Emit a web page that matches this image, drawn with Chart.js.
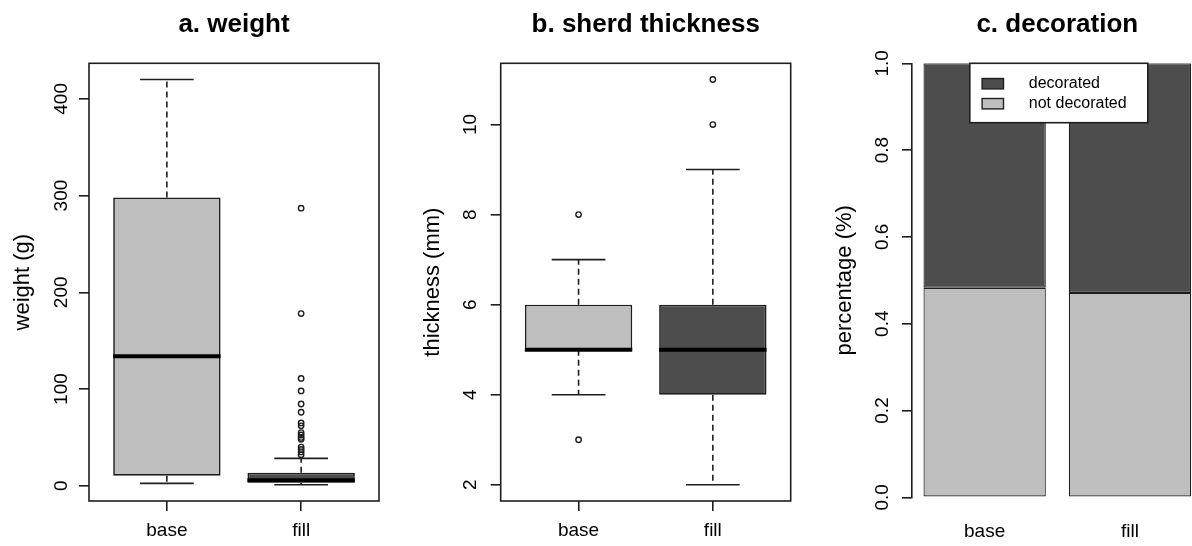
<!DOCTYPE html>
<html>
<head>
<meta charset="utf-8">
<script src="https://cdn.jsdelivr.net/npm/chart.js@4.4.1/dist/chart.umd.min.js"></script>
<style>
  html, body { margin: 0; padding: 0; background: #fff; overflow: hidden; width: 1192px; height: 546px; }
  .panel { position: absolute; top: 0; height: 546px; }
</style>
</head>
<body>
<div class="panel" style="left:0;width:400px"><canvas id="chartWeight" width="400" height="546"></canvas></div>
<div class="panel" style="left:400px;width:400px"><canvas id="chartThick" width="400" height="546"></canvas></div>
<div class="panel" style="left:800px;width:410px"><canvas id="chartDeco" width="410" height="546"></canvas></div>
<script>
const FONT = '"Liberation Sans", Arial, Helvetica, sans-serif';
const INK = '#1e1e1e';
const LIGHT = '#bebebe';
const DARK = '#4d4d4d';

// shared groups
const groups = ['base', 'fill'];

// a. weight (g) - five number summaries per group
const weightLow = [2.5, 1.0];
const weightQ1 = [10.3, 3.1];
const weightMedian = [134, 5.8];
const weightQ3 = [298, 13.4];
const weightHigh = [420, 28.3];
const weightOutliersBase = [];
const weightOutliersFill = [287, 178, 111, 98, 84.5, 76, 65, 62, 55, 52.5, 50, 48, 40, 37.5, 35, 32];
const weightTicks = [0, 100, 200, 300, 400];

// b. sherd thickness (mm)
const thickLow = [4, 2];
const thickQ1 = [5, 4];
const thickMedian = [5, 5];
const thickQ3 = [6, 6];
const thickHigh = [7, 9];
const thickOutliersBase = [8, 3];
const thickOutliersFill = [11, 10];
const thickTicks = [2, 4, 6, 8, 10];

// c. decoration (share of sherds)
const decoNotDecorated = [0.483, 0.471];
const decoDecorated = [0.517, 0.529];
const decoTicks = [0, 0.2, 0.4, 0.6, 0.8, 1.0];

Chart.defaults.font.family = FONT;
Chart.defaults.color = '#000';
Chart.defaults.animation = false;

// R style axis range: data range stretched by 4% on each side
function rRange(vals) {
  const lo = Math.min(...vals), hi = Math.max(...vals), d = (hi - lo) * 0.04;
  return [lo - d, hi + d];
}

// whiskers, staples, medians and the plot frame, drawn through the chart scales
const boxParts = {
  id: 'boxParts',
  beforeDatasetsDraw(chart, args, o) {
    const { ctx } = chart;
    const x = chart.scales.x, y = chart.scales.y;
    ctx.save();
    ctx.strokeStyle = INK;
    ctx.lineWidth = 1.6;
    o.low.forEach((lo, i) => {
      const c = x.getPixelForValue(i + 1);
      ctx.setLineDash([6, 4]);
      ctx.beginPath();
      ctx.moveTo(c, y.getPixelForValue(o.q3[i])); ctx.lineTo(c, y.getPixelForValue(o.high[i]));
      ctx.moveTo(c, y.getPixelForValue(o.q1[i])); ctx.lineTo(c, y.getPixelForValue(lo));
      ctx.stroke();
      ctx.setLineDash([]);
      const l = x.getPixelForValue(i + 1 - 0.2), r = x.getPixelForValue(i + 1 + 0.2);
      ctx.beginPath();
      for (const v of [lo, o.high[i]]) { const py = y.getPixelForValue(v); ctx.moveTo(l, py); ctx.lineTo(r, py); }
      ctx.stroke();
    });
    ctx.restore();
  },
  afterDatasetsDraw(chart, args, o) {
    const { ctx, chartArea: a } = chart;
    const x = chart.scales.x, y = chart.scales.y;
    ctx.save();
    ctx.strokeStyle = '#000';
    ctx.lineWidth = 4;
    o.median.forEach((m, i) => {
      const py = y.getPixelForValue(m);
      ctx.beginPath();
      ctx.moveTo(x.getPixelForValue(i + 1 - 0.4), py);
      ctx.lineTo(x.getPixelForValue(i + 1 + 0.4), py);
      ctx.stroke();
    });
    ctx.strokeStyle = INK;
    ctx.lineWidth = 1.6;
    ctx.strokeRect(a.left, a.top, a.right - a.left, a.bottom - a.top);
    ctx.restore();
  }
};

function boxChart(id, cfg) {
  const n = groups.length;
  const outliers = [];
  cfg.outliers.forEach((list, i) => list.forEach(v => outliers.push({ x: i + 1, y: v })));
  const [ymin, ymax] = rRange([...cfg.low, ...cfg.high, ...outliers.map(p => p.y)]);
  const [xmin, xmax] = rRange([0.5, n + 0.5]);
  return new Chart(document.getElementById(id), {
    type: 'bar',
    data: {
      datasets: [
        {
          type: 'bar',
          data: groups.map((g, i) => ({ x: i + 1, y: [cfg.q1[i], cfg.q3[i]] })),
          backgroundColor: [LIGHT, DARK],
          borderColor: INK, borderWidth: 1.7, borderSkipped: false,
          categoryPercentage: 0.8, barPercentage: 1,
        },
        {
          type: 'scatter',
          data: outliers,
          pointRadius: 2.7, pointBorderWidth: 1.4,
          pointBorderColor: INK, pointBackgroundColor: 'rgba(0,0,0,0)', borderColor: INK,
        },
      ],
    },
    options: {
      responsive: false, animation: false,
      layout: { padding: { left: 0, right: cfg.padRight, top: 0, bottom: 0 } },
      plugins: {
        legend: { display: false }, tooltip: { enabled: false },
        title: {
          display: true, text: cfg.title, fullSize: false, color: '#000',
          font: { size: 26, weight: 'bold' }, padding: { top: 9, bottom: 23.1 },
        },
        boxParts: { low: cfg.low, q1: cfg.q1, median: cfg.median, q3: cfg.q3, high: cfg.high },
      },
      scales: {
        x: {
          type: 'linear', min: xmin, max: xmax, offset: false, bounds: 'data',
          afterBuildTicks: s => { s.ticks = groups.map((g, i) => ({ value: i + 1 })); },
          afterFit: s => { s.height = 45; },
          grid: { drawOnChartArea: false, offset: false, tickLength: 10, color: INK, lineWidth: 1.6 },
          border: { display: false },
          ticks: { callback: v => groups[v - 1], font: { size: 19 }, color: '#000', padding: 8.6, maxRotation: 0, autoSkip: false },
        },
        y: {
          type: 'linear', min: ymin, max: ymax, bounds: 'data',
          afterBuildTicks: s => { s.ticks = cfg.ticks.map(v => ({ value: v })); },
          afterFit: s => { s.width = cfg.axisWidth; },
          grid: { drawOnChartArea: false, tickLength: 10, color: INK, lineWidth: 1.6 },
          border: { display: false },
          ticks: { minRotation: 90, maxRotation: 90, crossAlign: 'center', padding: cfg.tickPad, font: { size: 19 }, color: '#000' },
          title: { display: true, text: cfg.yTitle, font: { size: 22 }, color: '#000', padding: { top: cfg.titlePad, bottom: 0 } },
        },
      },
    },
    plugins: [boxParts],
  });
}

boxChart('chartWeight', {
  title: 'a. weight', yTitle: 'weight (g)',
  low: weightLow, q1: weightQ1, median: weightMedian, q3: weightQ3, high: weightHigh,
  outliers: [weightOutliersBase, weightOutliersFill], ticks: weightTicks,
  padRight: 21, axisWidth: 89, tickPad: 1.5, titlePad: 10,
});

boxChart('chartThick', {
  title: 'b. sherd thickness', yTitle: 'thickness (mm)',
  low: thickLow, q1: thickQ1, median: thickMedian, q3: thickQ3, high: thickHigh,
  outliers: [thickOutliersBase, thickOutliersFill], ticks: thickTicks,
  padRight: 9.3, axisWidth: 100.7, tickPad: 9, titlePad: 19.4,
});

// legend box in the top of the plot, like R's legend("top")
const decoLegend = {
  id: 'decoLegend',
  afterDatasetsDraw(chart) {
    const { ctx, chartArea: a } = chart;
    const w = 178, h = 59.4;
    const left = (a.left + a.right) / 2 - w / 2 + 1.5, top = a.top;
    ctx.save();
    ctx.fillStyle = '#fff';
    ctx.fillRect(left, top, w, h);
    ctx.strokeStyle = INK; ctx.lineWidth = 1.6;
    ctx.strokeRect(left, top, w, h);
    ctx.font = '16px ' + FONT;
    ctx.textBaseline = 'middle';
    chart.data.datasets.slice().reverse().forEach((ds, i) => {
      const cy = top + 20.4 + i * 20;
      ctx.fillStyle = ds.backgroundColor;
      ctx.fillRect(left + 12.3, cy - 5.2, 21.4, 10.4);
      ctx.lineWidth = 1.4;
      ctx.strokeRect(left + 12.3, cy - 5.2, 21.4, 10.4);
      ctx.fillStyle = '#000';
      ctx.fillText(ds.label, left + 59, cy);
    });
    ctx.restore();
  }
};

new Chart(document.getElementById('chartDeco'), {
  type: 'bar',
  data: {
    labels: groups,
    datasets: [
      { label: 'not decorated', data: decoNotDecorated, backgroundColor: LIGHT },
      { label: 'decorated', data: decoDecorated, backgroundColor: DARK },
    ].map(d => Object.assign(d, { borderColor: INK, borderWidth: 1.2, borderSkipped: false, categoryPercentage: 0.842, barPercentage: 1 })),
  },
  options: {
    responsive: false, animation: false,
    layout: { padding: { left: 0, right: 7.4, top: 0, bottom: 0 } },
    plugins: {
      legend: { display: false }, tooltip: { enabled: false },
      title: {
        display: true, text: 'c. decoration', fullSize: false, color: '#000',
        font: { size: 26, weight: 'bold' }, padding: { top: 9, bottom: 23.1 },
      },
    },
    scales: {
      x: {
        stacked: true,
        afterFit: s => { s.height = 48.7; },
        grid: { display: false },
        border: { display: false },
        ticks: { font: { size: 19 }, color: '#000', padding: 15.3, maxRotation: 0 },
      },
      y: {
        stacked: true, min: 0, max: 1, bounds: 'data',
        afterBuildTicks: s => { s.ticks = decoTicks.map(v => ({ value: v })); },
        afterFit: s => { s.width = 112; },
        grid: { drawOnChartArea: false, tickLength: 10, color: INK, lineWidth: 1.6 },
        border: { display: true, color: INK, width: 1.6 },
        ticks: { callback: v => v.toFixed(1), minRotation: 90, maxRotation: 90, crossAlign: 'center', padding: 6, font: { size: 19 }, color: '#000' },
        title: { display: true, text: 'percentage (%)', font: { size: 22 }, color: '#000', padding: { top: 31.8, bottom: 0 } },
      },
    },
  },
  plugins: [decoLegend],
});
</script>
</body>
</html>
